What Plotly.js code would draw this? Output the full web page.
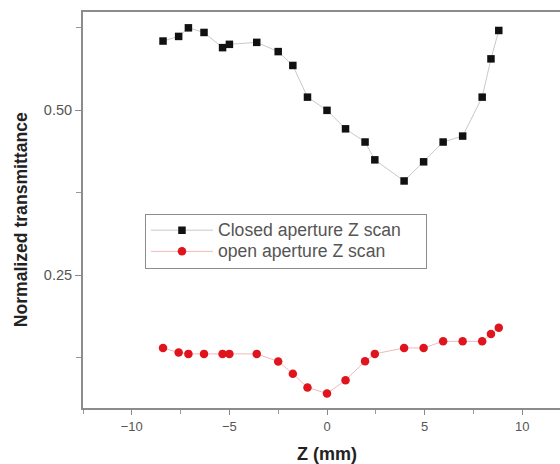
<!DOCTYPE html>
<html>
<head>
<meta charset="utf-8">
<script src="https://cdn.plot.ly/plotly-3.0.1.min.js"></script>
<style>
html, body { margin: 0; padding: 0; overflow: hidden; background: #fff; }
#chart { width: 600px; height: 464px; }
</style>
</head>
<body>
<div id="chart"></div>
<script>
// Z positions (mm)
const zPositions = [-8.4, -7.6, -7.1, -6.3, -5.35, -5.0, -3.6, -2.5, -1.75, -1.0, 0, 0.95, 1.95, 2.45, 3.95, 4.95, 5.95, 6.95, 7.95, 8.4, 8.8];
// Normalized transmittance, closed aperture
const closedAperture = [0.605, 0.612, 0.625, 0.618, 0.595, 0.600, 0.603, 0.589, 0.568, 0.520, 0.500, 0.472, 0.452, 0.425, 0.393, 0.422, 0.452, 0.461, 0.520, 0.578, 0.621];
// Normalized transmittance, open aperture
const openAperture = [0.140, 0.133, 0.131, 0.131, 0.131, 0.131, 0.131, 0.1195, 0.101, 0.080, 0.071, 0.091, 0.120, 0.131, 0.140, 0.140, 0.150, 0.150, 0.150, 0.161, 0.1705];
const seriesNames = ['Closed aperture Z scan', 'open aperture Z scan'];
const yTickVals = [0.25, 0.50];
const yTickText = ['0.25', '0.50'];
const xTickVals = [-10, -5, 0, 5, 10];

const font = 'Liberation Sans, Arial, sans-serif';
const NB = '\u00a0';

function legendLabel(s, pad) {
  return '<span style="font-size:17.6px">' + s + NB.repeat(pad) + '</span>';
}

const traces = [
  {
    x: zPositions, y: closedAperture, name: legendLabel(seriesNames[0], 4),
    type: 'scatter', mode: 'lines+markers',
    line: { color: '#c9c9c9', width: 1 },
    marker: { symbol: 'square', size: 7.5, color: '#111111' }
  },
  {
    x: zPositions, y: openAperture, name: legendLabel(seriesNames[1], 0),
    type: 'scatter', mode: 'lines+markers',
    line: { color: '#f2b9b9', width: 1 },
    marker: { symbol: 'circle', size: 8.5, color: '#e0141c' }
  }
];

const layout = {
  width: 600, height: 464,
  margin: { l: 83, r: 29, t: 12, b: 56, pad: 0 },
  paper_bgcolor: '#ffffff', plot_bgcolor: '#ffffff',
  font: { family: font, color: '#555555', size: 13 },
  showlegend: true,
  legend: {
    x: 0.127, y: 0.491, xanchor: 'left', yanchor: 'top',
    bgcolor: '#ffffff', bordercolor: '#8c8c8c', borderwidth: 1,
    font: { family: font, size: 14, color: '#555555' },
    itemwidth: 62
  },
  xaxis: {
    range: [-12.5, 12.5],
    tickmode: 'array', tickvals: xTickVals,
    ticks: 'outside', ticklen: 5, tickwidth: 1, tickcolor: '#888888',
    showline: true, linecolor: '#8c8c8c', linewidth: 2, mirror: true,
    showgrid: false, zeroline: false,
    tickfont: { family: font, size: 13, color: '#555555' },
    minor: { dtick: 2.5, tick0: 0, ticks: 'outside', ticklen: 4, tickcolor: '#999999', showgrid: false },
    title: { text: '<b>Z (mm)</b>', font: { family: font, size: 18, color: '#222222' }, standoff: 19 }
  },
  yaxis: {
    range: [0.049, 0.649],
    tickmode: 'array', tickvals: yTickVals, ticktext: yTickText,
    ticks: 'outside', ticklen: 6, tickwidth: 1, tickcolor: '#888888',
    showline: true, linecolor: '#8c8c8c', linewidth: 2, mirror: true,
    showgrid: false, zeroline: false,
    tickfont: { family: font, size: 14.5, color: '#555555' },
    minor: { dtick: 0.125, tick0: 0, ticks: 'outside', ticklen: 5, tickcolor: '#999999', showgrid: false },
    title: { text: '<b>Normalized transmittance' + NB.repeat(4) + '</b>', font: { family: font, size: 17.6, color: '#222222' }, standoff: 12 }
  }
};

Plotly.newPlot('chart', traces, layout, { displayModeBar: false, staticPlot: true });
</script>
</body>
</html>
